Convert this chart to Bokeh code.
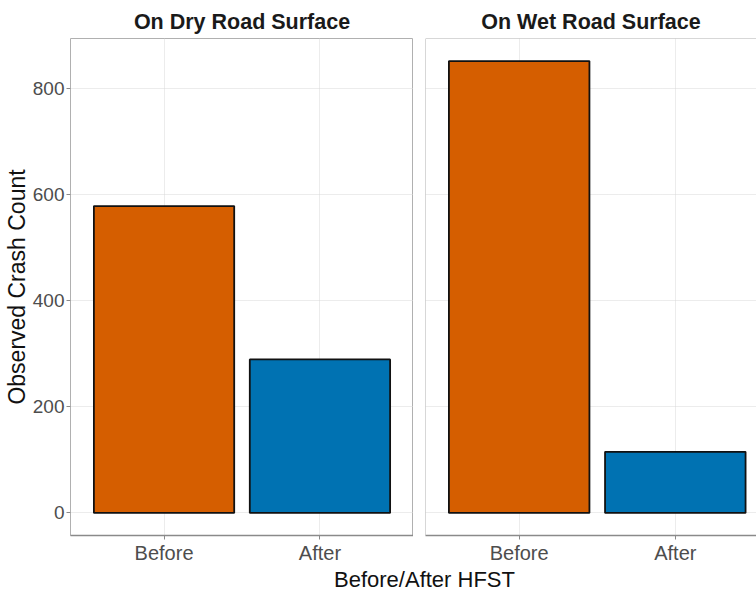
from bokeh.plotting import figure
from bokeh.layouts import column, row
from bokeh.models import Range1d, FixedTicker, Label, Span, ColumnDataSource
from bokeh.embed import file_html
from bokeh.resources import INLINE

# ---- data ----
categories = ["Before", "After"]
dry_counts = [578, 289]
wet_counts = [851, 115]
bar_colors = ["#D55E00", "#0072B2"]
panel_titles = ["On Dry Road Surface", "On Wet Road Surface"]
y_ticks = [0, 200, 400, 600, 800]
y_label = "Observed Crash Count"
x_label = "Before/After HFST"

FONT = "'Liberation Sans', Arial, sans-serif"

ymax = max(max(dry_counts), max(wet_counts))
pad = 0.05 * ymax
y_start, y_end = -pad, ymax + pad
x_pos = [i + 1 for i in range(len(categories))]
labels_map = {x: c for x, c in zip(x_pos, categories)}

BORDER = "#b0b0b0"
GRID = "#d9d9d9"
TICKTXT = "#4d4d4d"
ROW_H = 566


def make_panel(counts, title, width, x_end, left_border, show_y):
    p = figure(width=width, height=ROW_H, output_backend="svg", toolbar_location=None,
               x_range=Range1d(0.4, x_end), y_range=Range1d(y_start, y_end),
               min_border_left=left_border, min_border_right=0, min_border_top=38,
               min_border_bottom=31, y_axis_location="left" if show_y else None,
               title=title)
    p.title.text_font = FONT
    p.title.text_font_size = "21.5px"
    p.title.text_font_style = "bold"
    p.title.text_color = "#1a1a1a"
    p.title.align = "center"
    p.title.standoff = 10
    p.background_fill_color = "white"
    p.border_fill_color = "white"

    src = ColumnDataSource(dict(x=x_pos, top=counts, color=bar_colors, cat=categories))
    p.vbar(x="x", top="top", bottom=0, width=0.9, fill_color="color",
           line_color="#111111", line_width=1.8, source=src)

    p.xaxis.ticker = FixedTicker(ticks=x_pos)
    p.xaxis.major_label_overrides = labels_map
    p.xaxis.major_label_text_font = FONT
    p.xaxis.major_label_text_font_size = "20px"
    p.xaxis.major_label_text_color = TICKTXT
    p.xaxis.axis_line_color = "#8a8a8a"
    p.xaxis.axis_line_width = 1.5
    p.xaxis.major_tick_line_color = "#8a8a8a"
    p.xaxis.major_tick_in = 0
    p.xaxis.major_tick_out = 4
    p.xaxis.minor_tick_line_color = None
    p.xaxis.major_label_standoff = 2

    p.xgrid.ticker = FixedTicker(ticks=x_pos)
    p.ygrid.ticker = FixedTicker(ticks=y_ticks)
    for g in (p.xgrid, p.ygrid):
        g.grid_line_color = GRID
        g.grid_line_dash = "1 1"
        g.grid_line_width = 1

    if show_y:
        p.yaxis.ticker = FixedTicker(ticks=y_ticks)
        p.yaxis.major_label_text_font = FONT
        p.yaxis.major_label_text_font_size = "19px"
        p.yaxis.major_label_text_color = TICKTXT
        p.yaxis.axis_line_color = None
        p.yaxis.major_tick_line_color = "#8a8a8a"
        p.yaxis.major_tick_in = 0
        p.yaxis.major_tick_out = 4
        p.yaxis.minor_tick_line_color = None
        p.yaxis.major_label_standoff = 2
        p.yaxis.axis_label = y_label
        p.yaxis.axis_label_text_font = FONT
        p.yaxis.axis_label_text_font_size = "23px"
        p.yaxis.axis_label_text_font_style = "normal"
        p.yaxis.axis_label_text_color = "#111111"
        p.yaxis.axis_label_standoff = 0
        p.outline_line_color = BORDER
    else:
        p.outline_line_color = None
        p.add_layout(Span(location=0.4, dimension="height", line_color=BORDER, line_width=1))
        p.add_layout(Span(location=y_end, dimension="width", line_color=BORDER, line_width=1))
    return p


p1 = make_panel(dry_counts, panel_titles[0], 413, 2.6, 70, True)
p2 = make_panel(wet_counts, panel_titles[1], 343, 2.52, 12, False)

P3_H = 24
p3 = figure(width=756, height=P3_H, output_backend="svg", toolbar_location=None,
            x_range=Range1d(0, 756), y_range=Range1d(0, P3_H), min_border=0,
            x_axis_location=None, y_axis_location=None, title=None)
p3.outline_line_color = None
p3.grid.visible = False
p3.add_layout(Label(x=424, y=P3_H, text=x_label, text_align="center", text_baseline="top",
                    text_font=FONT, text_font_size="22px", text_color="#111111"))

layout = column(row(p1, p2, spacing=0), p3, spacing=0)
open("out.html", "w").write(file_html(layout, INLINE))
